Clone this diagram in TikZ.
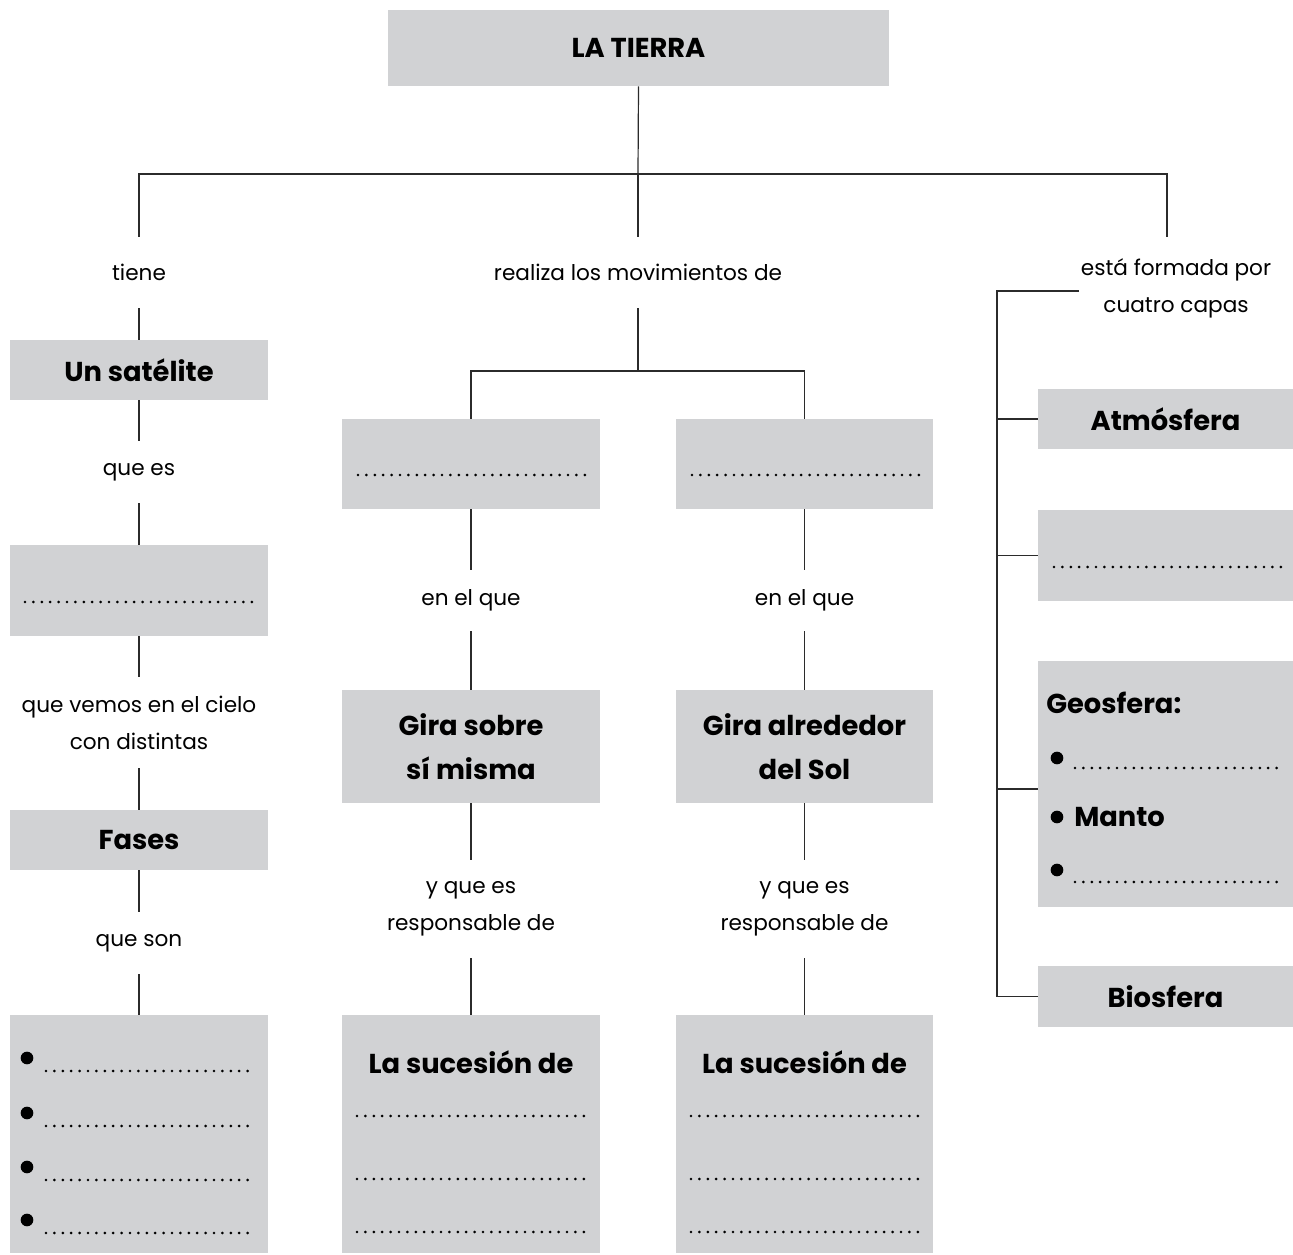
\documentclass[tikz,border=0pt]{standalone}
\usepackage{fontspec}
\setmainfont{Poppins}
\definecolor{boxgray}{HTML}{D1D2D4}
\definecolor{linec}{HTML}{2B2B2B}
\begin{document}
\begin{tikzpicture}[x=0.75pt,y=-0.75pt,
  sz/.style 2 args={minimum width=#1*0.75pt, minimum height=#2*0.75pt},
  box/.style={fill=boxgray, draw=none, inner sep=0pt, align=center, font=\bfseries\fontsize{20.5}{33}\selectfont},
  bt/.style={inner sep=0pt, font=\bfseries\fontsize{20.5}{33}\selectfont},
  lab/.style={inner sep=0pt, align=center, font=\fontsize{16.2}{27.8}\selectfont},
  conn/.style={draw=linec, line width=0.9pt},
  dotrow/.style={line width=2.2pt, line cap=round, dash pattern=on 0pt off 6.3pt},
  bul/.style={circle, fill=black, inner sep=0pt, minimum size=9.5pt}
]
\useasboundingbox (0,0) rectangle (1293,1255);

% top
\node[box, sz={501}{76}] (tierra) at (638.5,48) {LA TIERRA};
\coordinate (tj) at (638,174);
\node[lab, sz={10}{71}] (tiene) at (139,272.5) {tiene};
\node[lab, sz={10}{71}] (realiza) at (638,272.5) {realiza los movimientos de};
\node[lab] (forma) at (1176,288) {está formada por\\cuatro capas};
\coordinate (r1) at (1167,237);
\draw[conn] (tierra.south) -- (tj);
\draw[conn] (tiene.north) |- (tj) -| (r1);
\draw[conn] (tj) -- (realiza.north);

% left column
\node[box, sz={258}{60}] (sat) at (139,370) {Un satélite};
\node[lab, sz={10}{62}] (quees) at (139,472) {que es};
\node[box, sz={258}{91}] (luna) at (139,590.5) {};
\node[lab, sz={10}{91}] (vemos) at (139,722.5) {que vemos en el cielo\\con distintas};
\node[box, sz={258}{60}] (fases) at (139,840) {Fases};
\node[lab, sz={10}{62}] (queson) at (139,943) {que son};
\node[box, sz={258}{238}] (lista) at (139,1134) {};
\draw[conn] (tiene.south) -- (sat.north);
\draw[conn] (sat.south) -- (quees.north);
\draw[conn] (quees.south) -- (luna.north);
\draw[conn] (luna.south) -- (vemos.north);
\draw[conn] (vemos.south) -- (fases.north);
\draw[conn] (fases.south) -- (queson.north);
\draw[conn] (queson.south) -- (lista.north);
\draw[dotrow] (25,602) -- (257,602);
\foreach \yb/\yd [count=\i] in {1058/1071,1113/1126,1167/1180,1220/1233}{
  \node[bul] (lb\i) at (27,\yb) {};
  \draw[dotrow] (46,\yd) -- (251,\yd);
}

% middle columns
\coordinate (mj) at (638,371);
\node[box, sz={258}{90}] (mova) at (471,464) {};
\node[box, sz={257}{90}] (movb) at (804.5,464) {};
\draw[conn] (realiza.south) -- (mj);
\draw[conn] (mova.north) |- (mj) -| (movb.north);
\draw[dotrow] (358,475) -- (590,475);
\draw[dotrow] (692,475) -- (924,475);

\node[lab, sz={10}{61}] (enqa) at (471,600.5) {en el que};
\node[lab, sz={10}{61}] (enqb) at (804.5,600.5) {en el que};
\node[box, sz={258}{113}] (giraa) at (471,746.5) {Gira sobre\\sí misma};
\node[box, sz={257}{113}] (girab) at (804.5,746.5) {Gira alrededor\\del Sol};
\node[lab, sz={10}{98}] (respa) at (471,909) {y que es\\responsable de};
\node[lab, sz={10}{98}] (respb) at (804.5,909) {y que es\\responsable de};
\node[box, sz={258}{238}] (suca) at (471,1134) {};
\node[box, sz={257}{238}] (sucb) at (804.5,1134) {};
\node[bt] (suctxta) at (471,1062) {La sucesión de};
\node[bt] (suctxtb) at (804.5,1062) {La sucesión de};
\foreach \yd in {1116,1179,1232}{
  \draw[dotrow] (357,\yd) -- (592,\yd);
  \draw[dotrow] (691,\yd) -- (926,\yd);
}
\draw[conn] (mova.south) -- (enqa.north);
\draw[conn] (enqa.south) -- (giraa.north);
\draw[conn] (giraa.south) -- (respa.north);
\draw[conn] (respa.south) -- (suca.north);
\draw[conn] (movb.south) -- (enqb.north);
\draw[conn] (enqb.south) -- (girab.north);
\draw[conn] (girab.south) -- (respb.north);
\draw[conn] (respb.south) -- (sucb.north);

% right column
\node[box, sz={255}{60}] (atm) at (1165.5,419) {Atmósfera};
\node[box, sz={255}{91}] (hidro) at (1165.5,555.5) {};
\node[box, sz={255}{246}] (geo) at (1165.5,784) {};
\node[box, sz={255}{61}] (bio) at (1165.5,996.5) {Biosfera};
\draw[dotrow] (1054,567) -- (1285,567);
\node[bt, anchor=west] (geotxt) at (1046,703) {Geosfera:};
\node[bul] (gb1) at (1057,758) {};
\draw[dotrow] (1075,768) -- (1277,768);
\node[bul] (gb2) at (1057,817) {};
\node[bt, anchor=west] (manto) at (1074,817) {Manto};
\node[bul] (gb3) at (1057,870) {};
\draw[dotrow] (1075,882) -- (1277,882);

\coordinate (r2) at (1079,291);
\coordinate (tr0) at (997,291);
\coordinate (gj) at (997,789);
\draw[conn] (r2) -- (tr0) |- (bio.west);
\draw[conn] (tr0 |- atm.west) -- (atm.west);
\draw[conn] (tr0 |- hidro.west) -- (hidro.west);
\draw[conn] (gj) -- (gj -| geo.west);
\end{tikzpicture}
\end{document}
